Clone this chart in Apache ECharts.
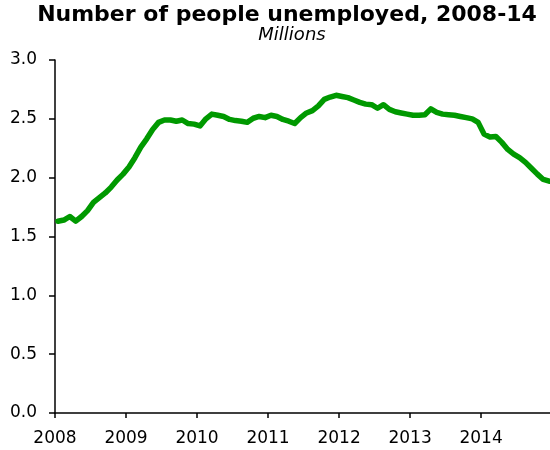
<!DOCTYPE html>
<html>
<head>
<meta charset="utf-8">
<script src="https://cdn.jsdelivr.net/npm/echarts@6/dist/echarts.min.js"></script>
<style>
  html, body { margin: 0; padding: 0; background: #fff; }
  #chart { width: 550px; height: 450px; }
</style>
</head>
<body>
<div id="chart"></div>
<script>
// Monthly number of people unemployed (millions), one array per year
const years = [2008, 2009, 2010, 2011, 2012, 2013, 2014];
const unemployed2008 = [1.63, 1.64, 1.67, 1.63, 1.67, 1.72, 1.79, 1.83, 1.87, 1.92, 1.98, 2.03];
const unemployed2009 = [2.09, 2.17, 2.26, 2.33, 2.41, 2.47, 2.49, 2.49, 2.48, 2.49, 2.46, 2.455];
const unemployed2010 = [2.44, 2.50, 2.54, 2.53, 2.52, 2.495, 2.485, 2.48, 2.47, 2.505, 2.52, 2.51];
const unemployed2011 = [2.53, 2.52, 2.495, 2.48, 2.46, 2.51, 2.55, 2.57, 2.61, 2.665, 2.685, 2.70];
const unemployed2012 = [2.69, 2.68, 2.66, 2.64, 2.625, 2.62, 2.59, 2.62, 2.58, 2.56, 2.55, 2.54];
const unemployed2013 = [2.53, 2.53, 2.535, 2.585, 2.555, 2.54, 2.535, 2.53, 2.52, 2.51, 2.50, 2.47];
const unemployed2014 = [2.37, 2.345, 2.35, 2.30, 2.24, 2.20, 2.17, 2.13, 2.08, 2.03, 1.985, 1.97];

const byYear = [unemployed2008, unemployed2009, unemployed2010, unemployed2011,
                unemployed2012, unemployed2013, unemployed2014];

// Each monthly value sits in the middle of its month on a continuous year scale
const points = [];
byYear.forEach((vals, yi) => {
  vals.forEach((v, m) => points.push([years[yi] + (m + 0.5) / 12, v]));
});

const font = 'DejaVu Sans';
const chart = echarts.init(document.getElementById('chart'), null, { renderer: 'canvas' });

chart.setOption({
  animation: false,
  backgroundColor: '#ffffff',
  title: [
    {
      text: 'Number of people unemployed, 2008-14',
      left: 287,
      top: 4,
      textAlign: 'center',
      padding: 0,
      textStyle: { fontFamily: font, fontWeight: 'bold', fontSize: 22, color: '#000' }
    },
    {
      text: 'Millions',
      left: 292,
      top: 26,
      textAlign: 'center',
      padding: 0,
      textStyle: { fontFamily: font, fontStyle: 'italic', fontWeight: 'normal', fontSize: 18, color: '#000' }
    }
  ],
  grid: { left: 55, right: -1, top: 60, bottom: 37, containLabel: false },
  xAxis: {
    type: 'value',
    min: years[0],
    max: years[years.length - 1] + 1 - 0.03,
    interval: 1,
    axisLine: { show: true, lineStyle: { color: '#000', width: 1.5 } },
    axisTick: { show: true, inside: false, length: 5, lineStyle: { color: '#000', width: 1.5 } },
    axisLabel: {
      show: true,
      margin: 17,
      fontFamily: font,
      fontSize: 17,
      color: '#000',
      showMaxLabel: false,
      formatter: v => (Number.isInteger(v) ? String(v) : '')
    },
    splitLine: { show: false }
  },
  yAxis: {
    type: 'value',
    min: 0,
    max: 3,
    interval: 0.5,
    axisLine: { show: true, lineStyle: { color: '#000', width: 1.5 } },
    axisTick: { show: true, inside: false, length: 6, lineStyle: { color: '#000', width: 1.5 } },
    axisLabel: {
      margin: 18,
      fontFamily: font,
      fontSize: 17,
      color: '#000',
      formatter: v => v.toFixed(1)
    },
    splitLine: { show: false }
  },
  series: [{
    type: 'line',
    data: points,
    showSymbol: false,
    symbol: 'none',
    smooth: false,
    clip: true,
    lineStyle: { color: '#009900', width: 5.5, join: 'round', cap: 'round' }
  }]
});
</script>
</body>
</html>
